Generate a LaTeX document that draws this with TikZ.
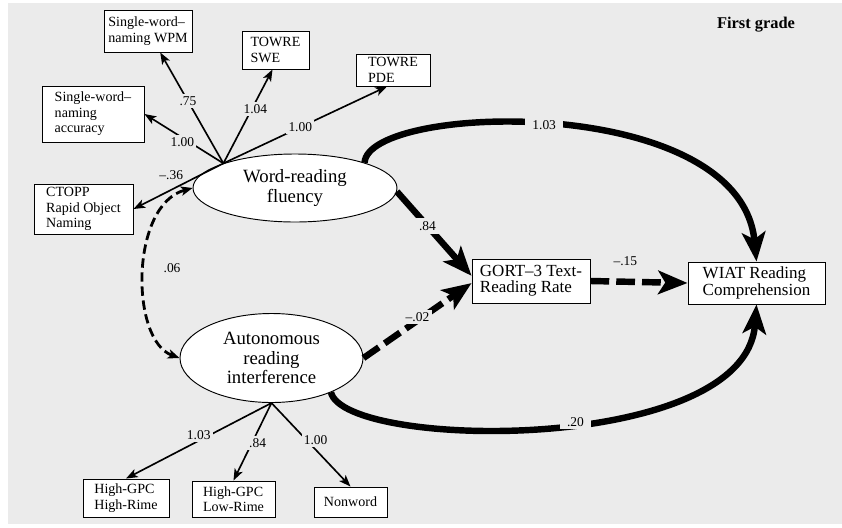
\documentclass[tikz,border=0pt]{standalone}
\usepackage{fontspec}
\setmainfont{Liberation Serif}
\usetikzlibrary{shapes.geometric,arrows.meta,calc}
\definecolor{bggray}{gray}{0.92}

\begin{document}
\begin{tikzpicture}[x=0.03cm,y=-0.03cm,
    num/.style={font=\fontsize{11.5}{12}\selectfont},
    lbl/.style={num, fill=bggray, inner sep=2pt},
    indbox/.style={draw, line width=0.8pt, fill=white, align=left,
      font=\fontsize{12}{13.2}\selectfont, inner xsep=2pt, inner ysep=1pt},
    outbox/.style={draw, line width=0.8pt, fill=white, align=left,
      font=\fontsize{14.5}{14}\selectfont, inner xsep=2pt, inner ysep=1pt},
    latent/.style={ellipse, draw, line width=0.8pt, fill=white, align=center,
      font=\fontsize{16}{16.5}\selectfont, inner sep=0pt},
    ind/.style={line width=1.4pt, -{Stealth[length=10pt,width=7.5pt,inset=2.5pt]}},
    corr/.style={line width=2.4pt, dash pattern=on 8pt off 4pt,
      {Stealth[length=10pt,width=8pt,inset=2.5pt]}-{Stealth[length=10pt,width=8pt,inset=2.5pt]}},
    strong/.style={line width=5.5pt, -{Stealth[length=25pt,width=20pt,inset=6pt]}},
    strongdash/.style={strong, dash pattern=on 16pt off 6pt}]

    % Background
    \useasboundingbox (0,0) rectangle (842,527);
    \fill[bggray] (8,3) rectangle (842,524);

    \node[font=\fontsize{14}{16}\selectfont\bfseries] (title) at (756,25) {First grade};

    % Indicators of word-reading fluency
    \node[indbox, minimum width=2.64cm, minimum height=1.26cm] (wpm) at (148,31) {Single-word--\\naming WPM};
    \node[indbox, minimum width=2.01cm, minimum height=1.14cm] (swe) at (275.5,50) {TOWRE\\SWE};
    \node[indbox, minimum width=2.22cm, minimum height=0.96cm] (pde) at (393,70) {TOWRE\\PDE};
    \node[indbox, minimum width=3.06cm, minimum height=1.68cm] (acc) at (93,114) {Single-word--\\naming\\accuracy};
    \node[indbox, minimum width=2.97cm, minimum height=1.5cm] (ctopp) at (83.5,209) {CTOPP\\Rapid Object\\Naming};

    % Latent factors
    \node[latent, minimum width=6.12cm, minimum height=2.04cm] (wrf) at (295,188) {Word-reading\\fluency};
    \node[latent, minimum width=5.49cm, minimum height=2.67cm] (ari) at (271.5,358) {Autonomous\\reading\\interference};

    % Outcomes
    \node[outbox, minimum width=3.54cm, minimum height=1.32cm] (gort) at (531,281) {GORT--3 Text-\\Reading Rate};
    \node[outbox, minimum width=4.11cm, minimum height=1.26cm] (wiat) at (756.5,283) {WIAT Reading\\Comprehension};

    % Indicators of autonomous reading interference
    \node[indbox, minimum width=2.58cm, minimum height=1.14cm] (hh) at (126,498) {High-GPC\\High-Rime};
    \node[indbox, minimum width=2.49cm, minimum height=1.08cm] (hl) at (233.5,499) {High-GPC\\Low-Rime};
    \node[indbox, minimum width=2.19cm, minimum height=0.9cm] (nw) at (350.5,502) {Nonword};

    \coordinate (wrfroot) at (wrf.161);
    \coordinate (ariroot) at (ari.south);

    % Loadings
    \draw[ind] (wrfroot) -- node[lbl, pos=.56] {.75} (wpm);
    \draw[ind] (wrfroot) -- node[lbl, pos=.58, xshift=3pt] {1.04} ($(swe.south)+(-3,0)$);
    \draw[ind] (wrfroot) -- node[lbl, pos=.47] {1.00} ($(pde.south)+(-6,0)$);
    \draw[ind] (wrfroot) -- node[lbl, pos=.52, yshift=-4pt] {1.00} (acc.east);
    \draw[ind] (wrfroot) -- node[num, pos=.58, above=5pt] {--.36} (ctopp.east);
    \draw[ind] (ariroot) -- node[lbl, pos=.5, yshift=5pt] {1.03} (hh.north);
    \draw[ind] (ariroot) -- node[lbl, pos=.52, xshift=5pt] {.84} (hl.north);
    \draw[ind] (ariroot) -- node[lbl, pos=.44, xshift=8pt] {1.00} (nw.north);

    % Structural paths
    \draw[corr] (wrf.west) .. controls (130,205) and (130,340) .. node[num, pos=.48, right=12pt] {.06} (ari.west);
    \draw[strong] (wrf.-2) -- node[lbl, pos=.41, inner sep=3pt] {.84} (gort.175);
    \draw[strongdash] (ari.east) -- node[lbl, pos=.5, yshift=3pt] {--.02} (gort.182);
    \draw[strongdash] (gort.east) -- node[num, pos=.36, above=8pt] {--.15} (wiat.west);
    \draw[strong] (wrf.20) .. controls (368,103) and (740,92) .. node[lbl, pos=.48, inner xsep=6pt] {1.03} (wiat.north);
    \draw[strong] (ari.-30) .. controls (345,450) and (745,455) .. node[lbl, pos=.55, inner xsep=6pt] {.20} (wiat.south);
\end{tikzpicture}
\end{document}
